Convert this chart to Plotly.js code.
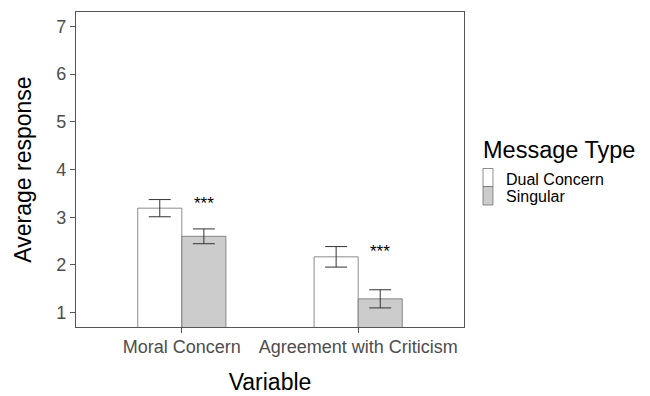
<!DOCTYPE html>
<html>
<head>
<meta charset="utf-8">
<script src="https://cdn.plot.ly/plotly-3.0.1.min.js"></script>
<style>html,body{margin:0;padding:0;background:#fff;}#chart{width:650px;height:396px;}</style>
</head>
<body>
<div id="chart"></div>
<script>
const categories = ['Moral Concern', 'Agreement with Criticism'];
const dualConcern = [3.19, 2.17];
const dualConcernErr = [0.18, 0.215];
const singular = [2.60, 1.29];
const singularErr = [0.155, 0.19];
const starLabels = ['***', '***'];
const starY = [3.05, 2.04];
const seriesNames = ['Dual Concern', 'Singular'];
const legendTitle = 'Message Type';

const FONT = '"Liberation Sans", Arial, Helvetica, sans-serif';
const outline = '#707070';
const fills = ['#ffffff', '#cccccc'];

const traces = [
  {
    type: 'bar', name: seriesNames[0], x: categories, y: dualConcern, showlegend: false,
    marker: {color: fills[0], line: {color: outline, width: 0.8}},
    error_y: {type: 'data', array: dualConcernErr, visible: true, color: '#333333', thickness: 1, width: 11}
  },
  {
    type: 'bar', name: seriesNames[1], x: categories, y: singular, showlegend: false,
    marker: {color: fills[1], line: {color: outline, width: 0.8}},
    error_y: {type: 'data', array: singularErr, visible: true, color: '#333333', thickness: 1, width: 11}
  }
];

const annotations = categories.map((c, i) => ({
  x: i + 0.125, y: starY[i], xref: 'x', yref: 'y', text: starLabels[i],
  showarrow: false, yanchor: 'bottom', xanchor: 'center',
  font: {family: FONT, size: 17, color: '#000000'}
}));

// legend drawn as keys + labels in paper coordinates
annotations.push({
  x: 1.043, y: 0.563, xref: 'paper', yref: 'paper', text: legendTitle,
  showarrow: false, xanchor: 'left', yanchor: 'middle',
  font: {family: FONT, size: 23.5, color: '#000000'}
});
const keyTop = [0.5032, 0.4460];
const keyBot = [0.4460, 0.3873];
const labelY = [0.4698, 0.4127];
const shapes = [];
seriesNames.forEach((n, i) => {
  shapes.push({
    type: 'rect', xref: 'paper', yref: 'paper', x0: 1.049, x1: 1.0747,
    y0: keyBot[i], y1: keyTop[i], fillcolor: fills[i], line: {color: outline, width: 0.8}
  });
  annotations.push({
    x: 1.106, y: labelY[i], xref: 'paper', yref: 'paper', text: n,
    showarrow: false, xanchor: 'left', yanchor: 'middle', borderpad: 0,
    font: {family: FONT, size: 16, color: '#000000'}
  });
});

const layout = {
  width: 650, height: 396,
  margin: {l: 76, r: 186, t: 12, b: 69},
  paper_bgcolor: '#ffffff', plot_bgcolor: '#ffffff',
  font: {family: FONT},
  barmode: 'group', bargap: 0.5, bargroupgap: 0,
  xaxis: {
    type: 'category', range: [-0.6, 1.6],
    showline: true, mirror: true, linecolor: '#555555', linewidth: 1.2,
    ticks: 'outside', ticklen: 5, tickcolor: '#555555', tickwidth: 1,
    showgrid: false, zeroline: false, ticklabelstandoff: -2,
    tickfont: {family: FONT, size: 18, color: '#4d4d4d'},
    title: {text: 'Variable', font: {family: FONT, size: 23, color: '#000000'}, standoff: 18}
  },
  yaxis: {
    range: [0.7, 7.3], tickvals: [1,2,3,4,5,6,7],
    showline: true, mirror: true, linecolor: '#555555', linewidth: 1.2,
    ticks: 'outside', ticklen: 5, tickcolor: '#555555', tickwidth: 1,
    showgrid: false, zeroline: false,
    tickfont: {family: FONT, size: 18, color: '#4d4d4d'},
    title: {text: 'Average response', font: {family: FONT, size: 23, color: '#000000'}, standoff: 18}
  },
  showlegend: false,
  shapes: shapes,
  annotations: annotations
};

Plotly.newPlot('chart', traces, layout, {displayModeBar: false, staticPlot: true});
</script>
</body>
</html>
